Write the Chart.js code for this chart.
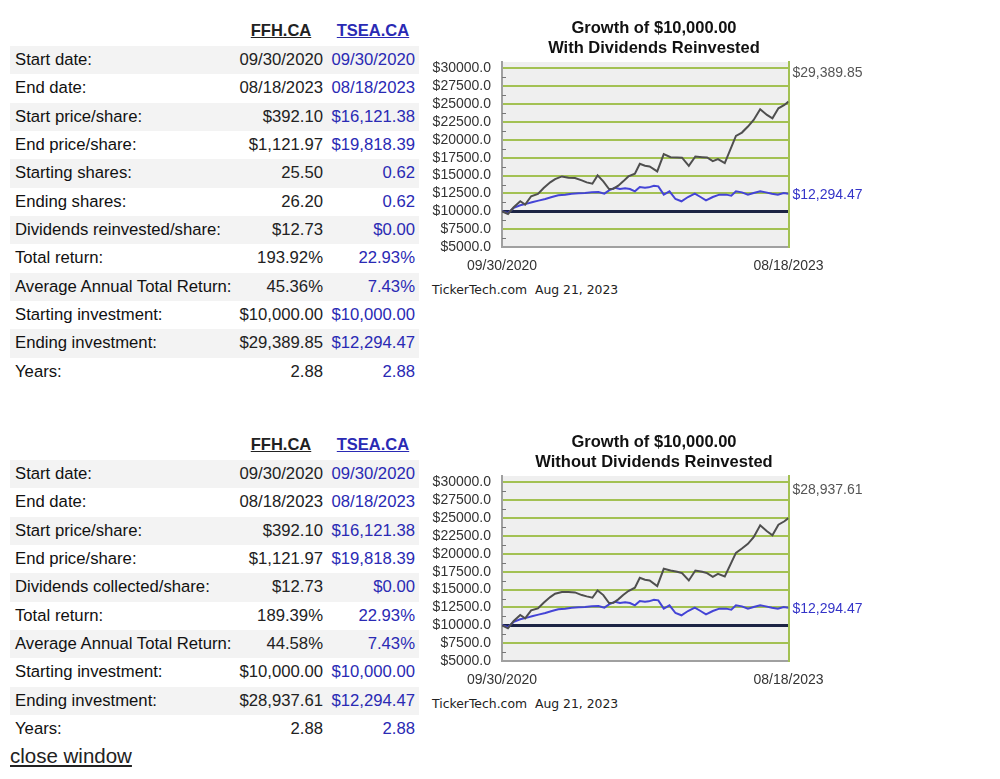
<!DOCTYPE html>
<html>
<head>
<meta charset="utf-8">
<script src="https://cdn.jsdelivr.net/npm/chart.js@4.4.0/dist/chart.umd.min.js"></script>
<style>
  body { margin: 0; background: #fff; font-family: "Liberation Sans", Arial, sans-serif; }
  .page { position: relative; width: 1000px; height: 779px; overflow: hidden; }
  .row { position: absolute; left: 10px; width: 409px; height: 28.35px; line-height: 28.35px; font-size: 16.7px; color: #111; }
  .row.shade { background: #f3f3f3; }
  .row span { position: absolute; top: 0; white-space: nowrap; }
  .row .lab { left: 5px; }
  .row .ffh { right: 96px; color: #222; }
  .row .tsea { right: 4px; color: #2a2ab4; }
  .head { position: absolute; width: 92px; text-align: center; font-weight: bold; font-size: 16.5px; text-decoration: underline; line-height: 20px; }
  .chartbox { position: absolute; left: 425px; width: 458px; height: 268px; }
  .credit { position: absolute; left: 432px; font-family: "DejaVu Sans", sans-serif; font-size: 12.4px; line-height: 14px; color: #222; white-space: pre; }
  .close { position: absolute; left: 10px; top: 744px; font-size: 20.5px; line-height: 24px; color: #222; text-decoration: underline; }
</style>
</head>
<body>
<div class="page" id="page">
  <div class="chartbox" style="top:10px"><canvas id="chart1" width="458" height="268"></canvas></div>
  <div class="chartbox" style="top:424px"><canvas id="chart2" width="458" height="268"></canvas></div>
  <div class="credit" style="top:283px">TickerTech.com  Aug 21, 2023</div>
  <div class="credit" style="top:697px">TickerTech.com  Aug 21, 2023</div>
  <div class="close">close window</div>
</div>
<script>
// table text
const tickers = ['FFH.CA', 'TSEA.CA'];
const rowLabels1 = ['Start date:', 'End date:', 'Start price/share:', 'End price/share:', 'Starting shares:', 'Ending shares:',
  'Dividends reinvested/share:', 'Total return:', 'Average Annual Total Return:', 'Starting investment:', 'Ending investment:', 'Years:'];
const ffhCol1 = ['09/30/2020', '08/18/2023', '$392.10', '$1,121.97', '25.50', '26.20', '$12.73', '193.92%', '45.36%', '$10,000.00', '$29,389.85', '2.88'];
const tseaCol1 = ['09/30/2020', '08/18/2023', '$16,121.38', '$19,818.39', '0.62', '0.62', '$0.00', '22.93%', '7.43%', '$10,000.00', '$12,294.47', '2.88'];
const rowLabels2 = ['Start date:', 'End date:', 'Start price/share:', 'End price/share:', 'Dividends collected/share:',
  'Total return:', 'Average Annual Total Return:', 'Starting investment:', 'Ending investment:', 'Years:'];
const ffhCol2 = ['09/30/2020', '08/18/2023', '$392.10', '$1,121.97', '$12.73', '189.39%', '44.58%', '$10,000.00', '$28,937.61', '2.88'];
const tseaCol2 = ['09/30/2020', '08/18/2023', '$16,121.38', '$19,818.39', '$0.00', '22.93%', '7.43%', '$10,000.00', '$12,294.47', '2.88'];

// chart data (x = days since 09/30/2020)
const ffhDays = [0, 22, 43, 67, 85, 107, 132, 153, 177, 195, 220, 244, 268, 293, 311, 332, 351, 372, 393, 409,
  427, 445, 464, 488, 506, 525, 542, 570, 594, 619, 643, 661, 686, 710, 735, 753, 774, 793, 818, 859,
  881, 903, 924, 948, 973, 993, 1015, 1037, 1052];
const ffhWith = [10000, 9630, 10560, 11400, 10930, 12100, 12420, 13260, 14050, 14500, 14880, 14700, 14650, 14330, 14050,
  13860, 15020, 14190, 13120, 13160, 13580, 14190, 14880, 15260, 16650, 16370, 16280, 15580, 18000, 17580,
  17530, 17500, 16370, 17670, 17580, 17530, 17020, 17300, 16740, 20560, 21020, 21860, 22790, 24280, 23490,
  23020, 24420, 24880, 25350];
const ffhWithout = [10000, 9580, 10600, 11440, 10980, 12090, 12370, 13160, 13950, 14420, 14650, 14650, 14600, 14230, 14050,
  13860, 14880, 14230, 13120, 13160, 13630, 14230, 14790, 15260, 16650, 16370, 16280, 15490, 17910, 17670,
  17490, 17300, 16280, 17670, 17490, 17300, 16790, 17210, 16840, 20140, 20740, 21400, 22330, 24000, 23160,
  22600, 24090, 24560, 25020];
const tseaDays = [0, 22, 43, 67, 92, 110, 134, 159, 183, 207, 232, 256, 281, 305, 330, 354, 376, 397, 415, 433,
  452, 470, 488, 506, 525, 539, 558, 574, 594, 615, 637, 659, 683, 708, 729, 749, 774, 798, 823, 842,
  859, 881, 903, 924, 948, 969, 991, 1013, 1034, 1052];
const tseaGrowth = [10000, 9770, 10470, 10840, 11070, 11260, 11490, 11720, 12000, 12230,
  12330, 12470, 12510, 12560, 12650, 12700, 12470, 13020, 13300, 13120,
  13210, 13120, 12790, 13400, 13300, 13350, 13580, 13490, 12330, 12790,
  11720, 11400, 12000, 12470, 12000, 11530, 12000, 12330, 12330, 12190,
  12790, 12650, 12330, 12560, 12790, 12650, 12470, 12330, 12560, 12470];

const yTicks = [5000, 7500, 10000, 12500, 15000, 17500, 20000, 22500, 25000, 27500, 30000];
const yMinorTicks = [6250, 8750, 11250, 13750, 16250, 18750, 21250, 23750, 26250, 28750];
const xTickDays = [0, 1052];
const xTickLabels = ['09/30/2020', '08/18/2023'];
const titles1 = ['Growth of $10,000.00', 'With Dividends Reinvested'];
const titles2 = ['Growth of $10,000.00', 'Without Dividends Reinvested'];
const endValues1 = [29389.85, 12294.47];
const endValues2 = [28937.61, 12294.47];

// tables
const page = document.getElementById('page');
function buildTable(top, labels, ffh, tsea) {
  const heads = [[235, tickers[0], '#222'], [327, tickers[1], '#2a2ab4']];
  heads.forEach(h => {
    const d = document.createElement('div');
    d.className = 'head';
    d.style.left = h[0] + 'px';
    d.style.top = (top - 10) + 'px';
    d.style.color = h[2];
    d.textContent = h[1];
    page.appendChild(d);
  });
  labels.forEach((lab, i) => {
    const r = document.createElement('div');
    r.className = 'row' + (i % 2 === 0 ? ' shade' : '');
    r.style.top = (top + 30 - 14.17 + i * 28.36) + 'px';
    r.innerHTML = '<span class="lab"></span><span class="ffh"></span><span class="tsea"></span>';
    r.children[0].textContent = lab;
    r.children[1].textContent = ffh[i];
    r.children[2].textContent = tsea[i];
    page.appendChild(r);
  });
}
buildTable(30, rowLabels1, ffhCol1, tseaCol1);
buildTable(444, rowLabels2, ffhCol2, tseaCol2);

// charts
Chart.defaults.font.family = '"Liberation Sans", Arial, sans-serif';
const green = '#a3c153';
const endColors = ['#555555', '#3434c8'];

const plotBg = {
  id: 'plotBg',
  beforeDraw(chart) {
    const a = chart.chartArea, ctx = chart.ctx;
    ctx.save();
    ctx.fillStyle = '#efefef';
    ctx.fillRect(a.left, a.top, a.right - a.left, a.bottom - a.top);
    ctx.restore();
  },
  afterDraw(chart) {
    const s = chart.scales.y, ctx = chart.ctx;
    ctx.save();
    ctx.strokeStyle = '#777';
    ctx.lineWidth = 1;
    yMinorTicks.forEach(v => {
      const y = Math.round(s.getPixelForValue(v)) + 0.5;
      ctx.beginPath();
      ctx.moveTo(s.right, y);
      ctx.lineTo(s.right + 4, y);
      ctx.stroke();
    });
    ctx.restore();
  }
};

function makeChart(id, titleLines, ffhValues, endValues) {
  const ctx = document.getElementById(id).getContext('2d');
  return new Chart(ctx, {
    type: 'line',
    data: {
      datasets: [
        {
          label: tickers[0],
          data: ffhDays.map((d, i) => ({ x: d, y: ffhValues[i] })),
          borderColor: '#4f4f4f',
          borderWidth: 2,
          pointRadius: 0,
          tension: 0,
        },
        {
          label: tickers[1],
          data: tseaDays.map((d, i) => ({ x: d, y: tseaGrowth[i] })),
          borderColor: '#4444d6',
          borderWidth: 2,
          pointRadius: 0,
          tension: 0,
        },
      ],
    },
    options: {
      responsive: false,
      animation: false,
      layout: { padding: 0 },
      plugins: {
        legend: { display: false },
        tooltip: { enabled: false },
        title: {
          display: true,
          text: titleLines,
          color: '#111',
          font: { size: 16.5, weight: 'bold', lineHeight: 20 / 16.5 },
          padding: { top: 8, bottom: 4 },
        },
      },
      scales: {
        x: {
          type: 'linear',
          min: 0,
          max: 1052,
          afterBuildTicks: s => { s.ticks = xTickDays.map(v => ({ value: v })); },
          afterFit: s => { s.height = 31; },
          ticks: {
            callback: (v, i) => xTickLabels[i],
            autoSkip: false,
            maxRotation: 0,
            padding: 11,
            color: '#333',
            font: { size: 14 },
          },
          grid: { display: false, drawTicks: false },
          border: { color: '#a0a0a0', width: 2 },
        },
        y: {
          position: 'left',
          min: 5000,
          max: 30900,
          afterBuildTicks: s => { s.ticks = yTicks.map(v => ({ value: v })); },
          afterFit: s => { s.width = 77; },
          ticks: {
            callback: v => '$' + v.toFixed(1),
            autoSkip: false,
            padding: 11,
            color: '#333',
            font: { size: 14 },
          },
          grid: {
            drawTicks: false,
            color: c => c.tick.value === 10000 ? '#1c2444' : (c.tick.value === 5000 ? 'rgba(0,0,0,0)' : green),
            lineWidth: c => c.tick.value === 10000 ? 3 : 2,
          },
          border: { color: '#a0a0a0', width: 2 },
        },
        yEnd: {
          position: 'right',
          min: 5000,
          max: 30900,
          afterBuildTicks: s => { s.ticks = endValues.map(v => ({ value: v })); },
          afterFit: s => { s.width = 94.5; },
          ticks: {
            callback: v => '$' + v.toLocaleString('en-US', { minimumFractionDigits: 2, maximumFractionDigits: 2 }),
            autoSkip: false,
            padding: 4,
            color: c => endColors[c.index],
            font: { size: 14 },
          },
          grid: { display: false, drawTicks: false },
          border: { color: green, width: 2 },
        },
      },
    },
    plugins: [plotBg],
  });
}

makeChart('chart1', titles1, ffhWith, endValues1);
makeChart('chart2', titles2, ffhWithout, endValues2);
</script>
</body>
</html>
